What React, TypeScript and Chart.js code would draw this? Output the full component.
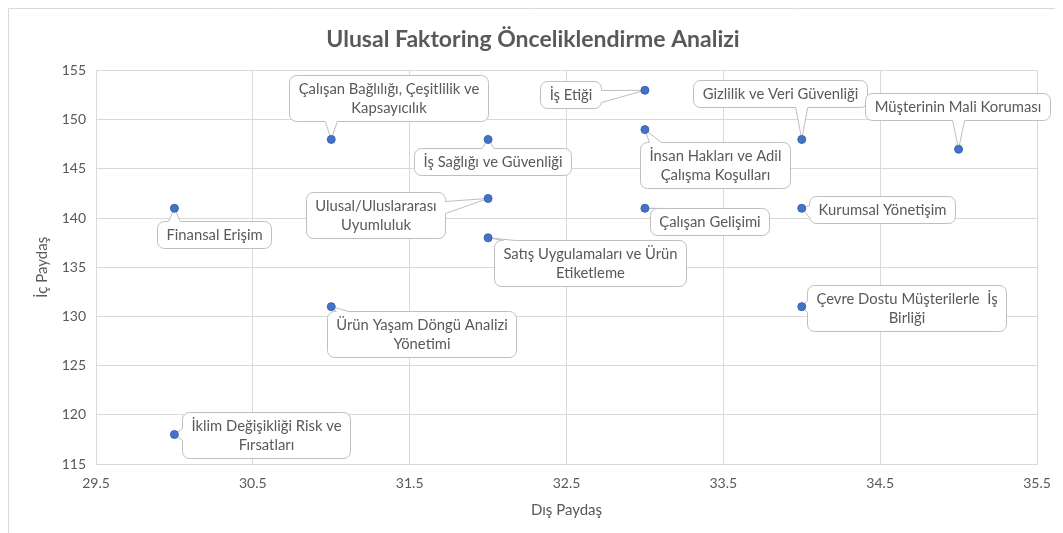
import React, { useEffect, useRef } from "react";
import { Chart, registerables } from "chart.js";

Chart.register(...registerables);

// ---- Data ----
const topicLines: string[][] = [
  ["Çalışan Bağlılığı, Çeşitlilik ve", "Kapsayıcılık"],
  ["İş Etiği"],
  ["Gizlilik ve Veri Güvenliği"],
  ["Müşterinin Mali Koruması"],
  ["İş Sağlığı ve Güvenliği"],
  ["İnsan Hakları ve Adil", "Çalışma Koşulları"],
  ["Finansal Erişim"],
  ["Ulusal/Uluslararası", "Uyumluluk"],
  ["Çalışan Gelişimi"],
  ["Kurumsal Yönetişim"],
  ["Satış Uygulamaları ve Ürün", "Etiketleme"],
  ["Ürün Yaşam Döngü Analizi", "Yönetimi"],
  ["Çevre Dostu Müşterilerle  İş", "Birliği"],
  ["İklim Değişikliği Risk ve", "Fırsatları"],
];
const disPaydas: number[] = [31, 33, 34, 35, 32, 33, 30, 32, 33, 34, 32, 31, 34, 30];
const icPaydas: number[] = [148, 153, 148, 147, 148, 149, 141, 142, 141, 141, 138, 131, 131, 118];
const xTicks: number[] = [29.5, 30.5, 31.5, 32.5, 33.5, 34.5, 35.5];
const yTicks: number[] = [115, 120, 125, 130, 135, 140, 145, 150, 155];

const chartTitle = "Ulusal Faktoring Önceliklendirme Analizi";
const xTitle = "Dış Paydaş";
const yTitle = "İç Paydaş";

// ---- Label layout (box centre offset from its point, px) ----
const labelOffsets: [number, number][] = [
  [57, -41],
  [-74, 4],
  [-22, -46],
  [-1, -43],
  [4, 22],
  [70, 35],
  [40, 26],
  [-113, 17],
  [65, 13],
  [80, 1],
  [102, 25],
  [90, 27],
  [105, 1],
  [92, 1],
];

const FONT = "Lato, 'Noto Sans', sans-serif";
const TEXT = "#595959";
const GRID = "#d9d9d9";

const LINE_H = 19;
const PAD_X = 9;
const PAD_Y = 4;

function roundRectPath(ctx: CanvasRenderingContext2D, x: number, y: number, w: number, h: number, r: number) {
  ctx.moveTo(x + r, y);
  ctx.lineTo(x + w - r, y);
  ctx.arcTo(x + w, y, x + w, y + r, r);
  ctx.lineTo(x + w, y + h - r);
  ctx.arcTo(x + w, y + h, x + w - r, y + h, r);
  ctx.lineTo(x + r, y + h);
  ctx.arcTo(x, y + h, x, y + h - r, r);
  ctx.lineTo(x, y + r);
  ctx.arcTo(x, y, x + r, y, r);
  ctx.closePath();
}

const clamp = (v: number, a: number, b: number) => Math.max(a, Math.min(b, v));

const calloutPlugin = {
  id: "callouts",
  beforeDatasetsDraw(chart: any) {
    const ctx: CanvasRenderingContext2D = chart.ctx;
    const meta = chart.getDatasetMeta(0);
    ctx.save();
    ctx.font = `14.8px ${FONT}`;
    meta.data.forEach((pt: any, i: number) => {
      const lines = topicLines[i];
      const [dx, dy] = labelOffsets[i];
      const tw = Math.max(...lines.map((s) => ctx.measureText(s).width));
      const w = Math.round(tw + 2 * PAD_X);
      const h = lines.length * LINE_H + 2 * PAD_Y;
      const cx = pt.x + dx;
      const cy = pt.y + dy;
      const l = Math.round(cx - w / 2) + 0.5;
      const t = Math.round(cy - h / 2) + 0.5;
      const r = l + w;
      const b = t + h;
      ctx.beginPath();
      roundRectPath(ctx, l, t, w, h, 7);
      ctx.fillStyle = "#ffffff";
      ctx.fill();
      ctx.strokeStyle = "#bfbfbf";
      ctx.lineWidth = 1;
      ctx.stroke();

      // pointer
      const px = pt.x;
      const py = pt.y;
      const half = 6;
      const m = 9;
      let b1: number[], b2: number[], n: number[];
      if (py > b) {
        const bx = clamp(px, l + m + half, r - m - half);
        b1 = [bx - half, b]; b2 = [bx + half, b]; n = [0, -2];
      } else if (py < t) {
        const bx = clamp(px, l + m + half, r - m - half);
        b1 = [bx - half, t]; b2 = [bx + half, t]; n = [0, 2];
      } else if (px < l) {
        const by = clamp(py, t + m + half, b - m - half);
        b1 = [l, by - half]; b2 = [l, by + half]; n = [2, 0];
      } else {
        const by = clamp(py, t + m + half, b - m - half);
        b1 = [r, by - half]; b2 = [r, by + half]; n = [-2, 0];
      }
      ctx.beginPath();
      ctx.moveTo(b1[0] + n[0], b1[1] + n[1]);
      ctx.lineTo(b1[0], b1[1]);
      ctx.lineTo(px, py);
      ctx.lineTo(b2[0], b2[1]);
      ctx.lineTo(b2[0] + n[0], b2[1] + n[1]);
      ctx.closePath();
      ctx.fillStyle = "#ffffff";
      ctx.fill();
      ctx.beginPath();
      ctx.moveTo(b1[0], b1[1]);
      ctx.lineTo(px, py);
      ctx.lineTo(b2[0], b2[1]);
      ctx.stroke();

      ctx.fillStyle = TEXT;
      ctx.textAlign = "center";
      ctx.textBaseline = "middle";
      const mid = (l + r) / 2;
      const cmid = (t + b) / 2;
      lines.forEach((s, k) => {
        ctx.fillText(s, mid, cmid + (k - (lines.length - 1) / 2) * LINE_H);
      });
    });
    ctx.restore();
  },
};

const framePlugin = {
  id: "frame",
  beforeDraw(chart: any) {
    const ctx: CanvasRenderingContext2D = chart.ctx;
    ctx.save();
    ctx.fillStyle = "#ffffff";
    ctx.fillRect(0, 0, chart.width, chart.height);
    ctx.strokeStyle = GRID;
    ctx.lineWidth = 1;
    ctx.beginPath();
    ctx.moveTo(0.5, chart.height);
    ctx.lineTo(0.5, 0.5);
    ctx.lineTo(chart.width, 0.5);
    ctx.stroke();
    ctx.restore();
  },
};

export default function App() {
  const ref = useRef<HTMLCanvasElement | null>(null);
  useEffect(() => {
    if (!ref.current) return;
    const chart = new Chart(ref.current, {
      type: "scatter",
      data: {
        datasets: [
          {
            label: "Öncelik",
            data: disPaydas.map((x, i) => ({ x, y: icPaydas[i] })),
            backgroundColor: "#4472C4",
            borderColor: "#3a66b5",
            borderWidth: 1,
            pointRadius: 4,
          },
        ],
      },
      options: {
        animation: false,
        responsive: false,
        layout: { padding: { left: 21, right: 26, top: 0, bottom: 11 } },
        plugins: {
          legend: { display: false },
          tooltip: { enabled: false },
          title: {
            display: true,
            text: chartTitle,
            color: TEXT,
            font: { family: FONT, size: 23, weight: "bold" },
            padding: { top: 18, bottom: 17 },
          },
        },
        scales: {
          x: {
            type: "linear",
            min: xTicks[0],
            max: xTicks[xTicks.length - 1],
            afterBuildTicks: (s: any) => {
              s.ticks = xTicks.map((v) => ({ value: v }));
            },
            afterFit: (s: any) => {
              s.height = 58;
            },
            grid: { color: GRID, drawTicks: false },
            border: { color: GRID },
            ticks: {
              color: TEXT,
              font: { family: FONT, size: 14 },
              padding: 11,
              maxRotation: 0,
              callback: (v: any) => Number(v).toFixed(1),
            },
            title: {
              display: true,
              text: xTitle,
              color: TEXT,
              font: { family: FONT, size: 15 },
              padding: { top: 4, bottom: 3 },
            },
          },
          y: {
            type: "linear",
            min: yTicks[0],
            max: yTicks[yTicks.length - 1],
            afterBuildTicks: (s: any) => {
              s.ticks = yTicks.map((v) => ({ value: v }));
            },
            afterFit: (s: any) => {
              s.width = 67;
            },
            grid: { color: GRID, drawTicks: false },
            border: { color: GRID },
            ticks: {
              color: TEXT,
              font: { family: FONT, size: 14 },
              padding: 10,
            },
            title: {
              display: true,
              text: yTitle,
              color: TEXT,
              font: { family: FONT, size: 15 },
            },
          },
        },
      },
      plugins: [framePlugin, calloutPlugin],
    });
    return () => chart.destroy();
  }, []);
  return <canvas ref={ref} width={1055} height={525} style={{ display: "block" }} />;
}
